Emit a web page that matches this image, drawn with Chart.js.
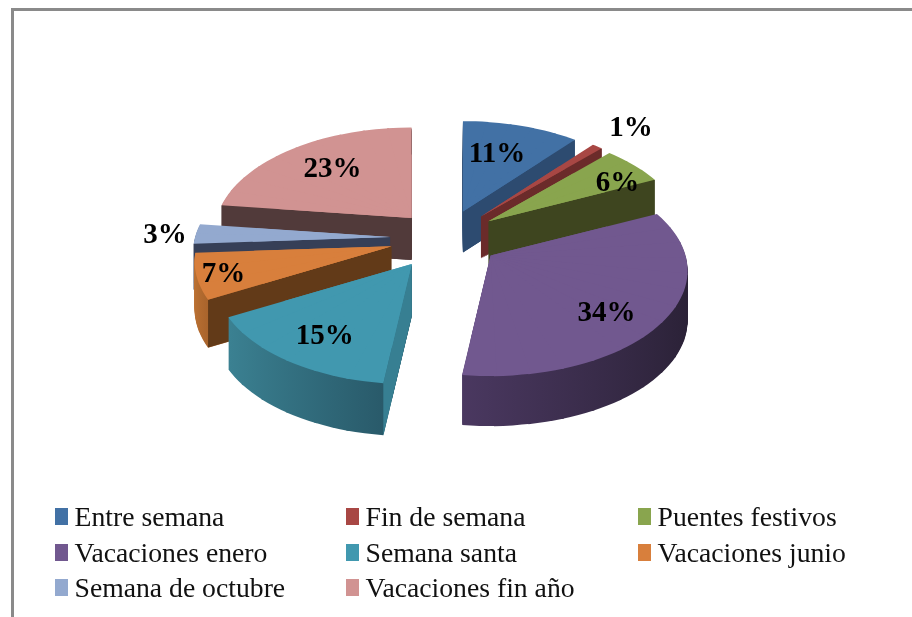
<!DOCTYPE html>
<html><head><meta charset="utf-8">
<style>html,body{margin:0;padding:0;background:#fff}canvas{display:block}</style>
<script src="https://cdn.jsdelivr.net/npm/chart.js@4"></script>
</head><body>
<canvas id="c" width="912" height="617"></canvas>
<script>
const categories = ["Entre semana","Fin de semana","Puentes festivos","Vacaciones enero","Semana santa","Vacaciones junio","Semana de octubre","Vacaciones fin año"];
const values = [11,1,6,34,15,7,3,23];
const topColors = ["#4271a5","#a84744","#89a54e","#71588f","#4198af","#d87f3c","#93a9cf","#d19392"];
const wallLeft = ["#2d4b70","#6b2b2a","#3e451f","#4a3860","#3b8192","#bd7233","#3a435a","#513a3a"];
const wallRight = ["#2d4b70","#6b2b2a","#3e451f","#2a2136","#295a6a","#a9642c","#3a435a","#513a3a"];
const faceColors = ["#2d4b70","#6b2b2a","#3e451f","#3a2a4c","#377f92","#623a18","#363f57","#513a3a"];
const explodeBy = [55,56,55,55,57,55,55,52];
const labelShift = [[34,-57],[150,-88],[129,-38],[116,58],[-87,73],[-168,28],[-225,-2],[-79,-48]];

const RADIUS=195, SQUASH=0.53, FOCAL=1365, DEPTH=46, STEP=Math.PI/20, UNDERLAY=0.7;
const LEGEND_FONT='27.7px "Liberation Serif"', LABEL_FONT='bold 29px "Liberation Serif"';
const LEGEND_X=[55,346,638], LEGEND_Y=[517,553,588];

function project(x,y){const k=FOCAL/(FOCAL-y);return {x:x*k,y:y*SQUASH*k,k};}

function wedgeLinear(a0,a1,r){
  const u0={x:r*Math.cos(a0),y:r*Math.sin(a0)},u1={x:r*Math.cos(a1),y:r*Math.sin(a1)};
  const v0=project(u0.x,u0.y),v1=project(u1.x,u1.y);
  const det=u0.x*u1.y-u1.x*u0.y;
  return {v0,v1,L:[(v0.x*u1.y-v1.x*u0.y)/det,(v0.y*u1.y-v1.y*u0.y)/det,
           (v1.x*u0.x-v0.x*u1.x)/det,(v1.y*u0.x-v0.y*u1.x)/det]};
}

function sliceGeometry(arc,i){
  const a0=arc.startAngle,a1=arc.endAngle,h=(a0+a1)/2,r=arc.outerRadius;
  const t=project(explodeBy[i]*Math.cos(h),explodeBy[i]*Math.sin(h));
  const tip={x:arc.x+t.x,y:arc.y+t.y};
  const whole=wedgeLinear(a0,a1,r);
  const n=Math.max(1,Math.ceil((a1-a0)/STEP));
  const wedges=[{b0:a0,b1:a1,L:whole.L,r:r*UNDERLAY}];
  for(let s=0;s<n;s++){
    const b0=a0+(a1-a0)*s/n,b1=a0+(a1-a0)*(s+1)/n;
    wedges.push({b0,b1:s<n-1?b1+0.012:b1,L:wedgeLinear(b0,b1,r).L,r});
  }
  return {tip,wedges,v0:whole.v0,v1:whole.v1,depth:DEPTH*project(0,r*Math.sin(h)).k};
}

function drawSlice(ctx,arc,g,dy,color){
  g.wedges.forEach(w=>{
    const proxy=Object.create(arc);
    proxy.startAngle=w.b0;proxy.endAngle=w.b1;proxy.circumference=w.b1-w.b0;proxy.outerRadius=w.r;
    proxy.options={backgroundColor:color,borderColor:color,borderWidth:0,borderAlign:'center',
      borderRadius:0,offset:0,spacing:0,circular:true,borderDash:[],borderDashOffset:0};
    ctx.save();
    ctx.translate(g.tip.x,g.tip.y+dy);
    ctx.transform(w.L[0],w.L[1],w.L[2],w.L[3],0,0);
    ctx.translate(-arc.x,-arc.y);
    proxy.draw(ctx);
    ctx.restore();
  });
}

function drawFace(ctx,g,v,w,color){
  const cross=v.x*w.y-v.y*w.x;
  if(Math.sign(cross)===Math.sign(v.x)) return;
  ctx.fillStyle=color;
  ctx.beginPath();
  ctx.moveTo(g.tip.x,g.tip.y);
  ctx.lineTo(g.tip.x+v.x,g.tip.y+v.y);
  ctx.lineTo(g.tip.x+v.x,g.tip.y+v.y+g.depth);
  ctx.lineTo(g.tip.x,g.tip.y+g.depth);
  ctx.closePath();
  ctx.fill();
}

const pie3d={
  id:'pie3d',
  beforeDraw(chart){
    const ctx=chart.ctx;
    ctx.save();
    ctx.fillStyle='#fff';ctx.fillRect(0,0,912,617);
    ctx.fillStyle='#8a8a8a';
    ctx.fillRect(11,8,901,3);
    ctx.fillRect(11,8,3,609);
    ctx.restore();
  },
  beforeDatasetDraw(){return false;},
  afterDatasetsDraw(chart){
    const ctx=chart.ctx,arcs=chart.getDatasetMeta(0).data;
    const order=arcs.map((a,i)=>i).sort((p,q)=>{
      const m=i=>Math.sin((arcs[i].startAngle+arcs[i].endAngle)/2);
      return m(p)-m(q);
    });
    order.forEach(i=>{
      const arc=arcs[i],g=sliceGeometry(arc,i);
      let lo=Infinity,hi=-Infinity;
      for(let s=0;s<=12;s++){
        const x=arc.outerRadius*Math.cos(arc.startAngle+(arc.endAngle-arc.startAngle)*s/12);
        lo=Math.min(lo,x);hi=Math.max(hi,x);
      }
      const grad=ctx.createLinearGradient(arc.x+lo,0,arc.x+hi,0);
      grad.addColorStop(0,wallLeft[i]);grad.addColorStop(1,wallRight[i]);
      for(let d=Math.round(g.depth);d>=1;d--) drawSlice(ctx,arc,g,d,grad);
      drawFace(ctx,g,g.v0,g.v1,faceColors[i]);
      drawFace(ctx,g,g.v1,g.v0,faceColors[i]);
      drawSlice(ctx,arc,g,0,topColors[i]);
    });
  },
  afterDraw(chart){
    const ctx=chart.ctx,arcs=chart.getDatasetMeta(0).data;
    ctx.save();
    ctx.fillStyle='#000';ctx.textAlign='center';ctx.textBaseline='middle';ctx.font=LABEL_FONT;
    arcs.forEach((arc,i)=>{
      const g=sliceGeometry(arc,i);
      ctx.fillText(values[i]+'%',g.tip.x+labelShift[i][0],g.tip.y+labelShift[i][1]);
    });
    ctx.font=LEGEND_FONT;ctx.textAlign='left';
    categories.forEach((name,i)=>{
      const col=i%3,row=Math.floor(i/3);
      ctx.fillStyle=topColors[i];
      ctx.fillRect(LEGEND_X[col],LEGEND_Y[row]-9,13,17);
      ctx.fillStyle='#111';
      ctx.fillText(name,LEGEND_X[col]+19.5,LEGEND_Y[row]+2);
    });
    ctx.restore();
  }
};

new Chart(document.getElementById('c'),{
  type:'pie',
  data:{labels:categories,datasets:[{data:values,backgroundColor:topColors,borderWidth:0,radius:RADIUS}]},
  options:{responsive:false,animation:false,events:[],
    layout:{padding:{left:0,right:22,top:0,bottom:141}},
    plugins:{legend:{display:false},tooltip:{enabled:false}}},
  plugins:[pie3d]
});
</script>
</body></html>
